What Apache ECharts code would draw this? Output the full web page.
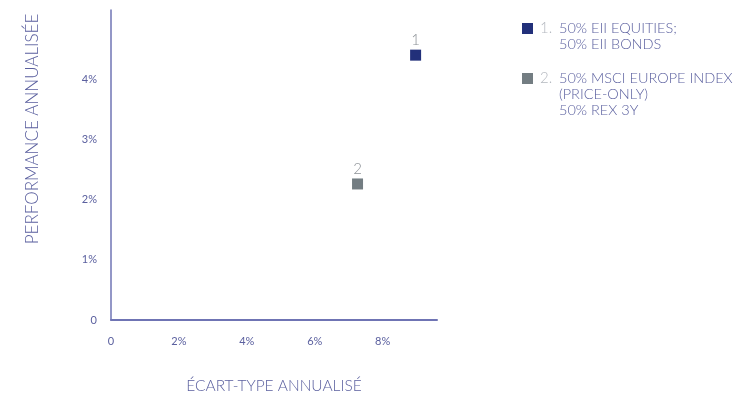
<!DOCTYPE html>
<html><head><meta charset="utf-8">
<script src="https://cdn.jsdelivr.net/npm/echarts@6/dist/echarts.min.js"></script>
<style>html,body{margin:0;padding:0;background:#fff;overflow:hidden}#c{width:740px;height:395px}</style>
</head><body><div id="c"></div>
<script>
// Data
const pointLabels = ['1', '2'];
const stdDev = [8.97, 7.26];        // Écart-type annualisé (%)
const perf = [4.40, 2.26];          // Performance annualisée (%)
const pointColors = ['#22307a', '#737d82'];
const legendLines = [
  ['50% EII EQUITIES;', '50% EII BONDS'],
  ['50% MSCI EUROPE INDEX', '(PRICE-ONLY)', '50% REX 3Y']
];
const xTicks = [0, 2, 4, 6, 8];
const yTicks = [0, 1, 2, 3, 4];

const FONT = 'Lato';
const axisColor = '#6f74b4';
const textColor = '#5b609f';

const chart = echarts.init(document.getElementById('c'));

const series = pointLabels.map((n, i) => ({
  type: 'scatter',
  name: n,
  data: [[stdDev[i], perf[i]]],
  symbol: 'rect',
  symbolSize: 11,
  itemStyle: { color: pointColors[i], opacity: 1 },
  label: {
    show: true, position: 'top', distance: 2,
    formatter: n, color: '#8c9196', fontSize: 15, fontFamily: FONT, fontWeight: 300
  }
}));

// Legend built as graphic
const legendGraphic = [];
let yCur = 23;
legendLines.forEach((lines, i) => {
  legendGraphic.push({ type: 'rect', left: 522, top: yCur, shape: { width: 11, height: 11 }, style: { fill: pointColors[i] } });
  legendGraphic.push({ type: 'text', left: 540, top: yCur - 2, style: { text: (i + 1) + '.', fill: '#b4b8bf', font: '300 15px ' + FONT } });
  lines.forEach((t, j) => {
    legendGraphic.push({ type: 'text', left: 559, top: yCur - 2 + j * 16, style: { text: t, fill: textColor, font: '300 14.5px ' + FONT } });
  });
  yCur += lines.length * 16 + 18;
});

chart.setOption({
  animation: false,
  backgroundColor: '#ffffff',
  grid: { left: 111, top: 10, right: 303, bottom: 75, containLabel: false, outerBoundsMode: 'none' },
  xAxis: {
    type: 'value', min: 0, max: 9.6, interval: 2,
    name: 'ÉCART-TYPE ANNUALISÉ', nameLocation: 'middle', nameGap: 58,
    nameTextStyle: { color: textColor, fontSize: 15.5, fontFamily: FONT, fontWeight: 300 },
    axisLine: { show: true, lineStyle: { color: axisColor, width: 2 } },
    axisTick: { show: false },
    splitLine: { show: false },
    axisLabel: {
      color: textColor, fontSize: 11, fontFamily: FONT, margin: 16,
      formatter: v => xTicks.includes(v) ? (v === 0 ? '0' : v + '%') : ''
    }
  },
  yAxis: {
    type: 'value', min: 0, max: 5.15, interval: 1,
    name: 'PERFORMANCE ANNUALISÉE', nameLocation: 'middle', nameGap: 70, nameRotate: 90,
    nameTextStyle: { color: textColor, fontSize: 17, fontFamily: FONT, fontWeight: 300, padding: [0, 0, 0, 72] },
    axisLine: { show: true, lineStyle: { color: axisColor, width: 1.5 } },
    axisTick: { show: false },
    splitLine: { show: false },
    axisLabel: {
      color: textColor, fontSize: 11, fontFamily: FONT, margin: 14,
      formatter: v => yTicks.includes(v) ? (v === 0 ? '0' : v + '%') : ''
    }
  },
  graphic: legendGraphic,
  series: series
});
</script>
</body></html>
